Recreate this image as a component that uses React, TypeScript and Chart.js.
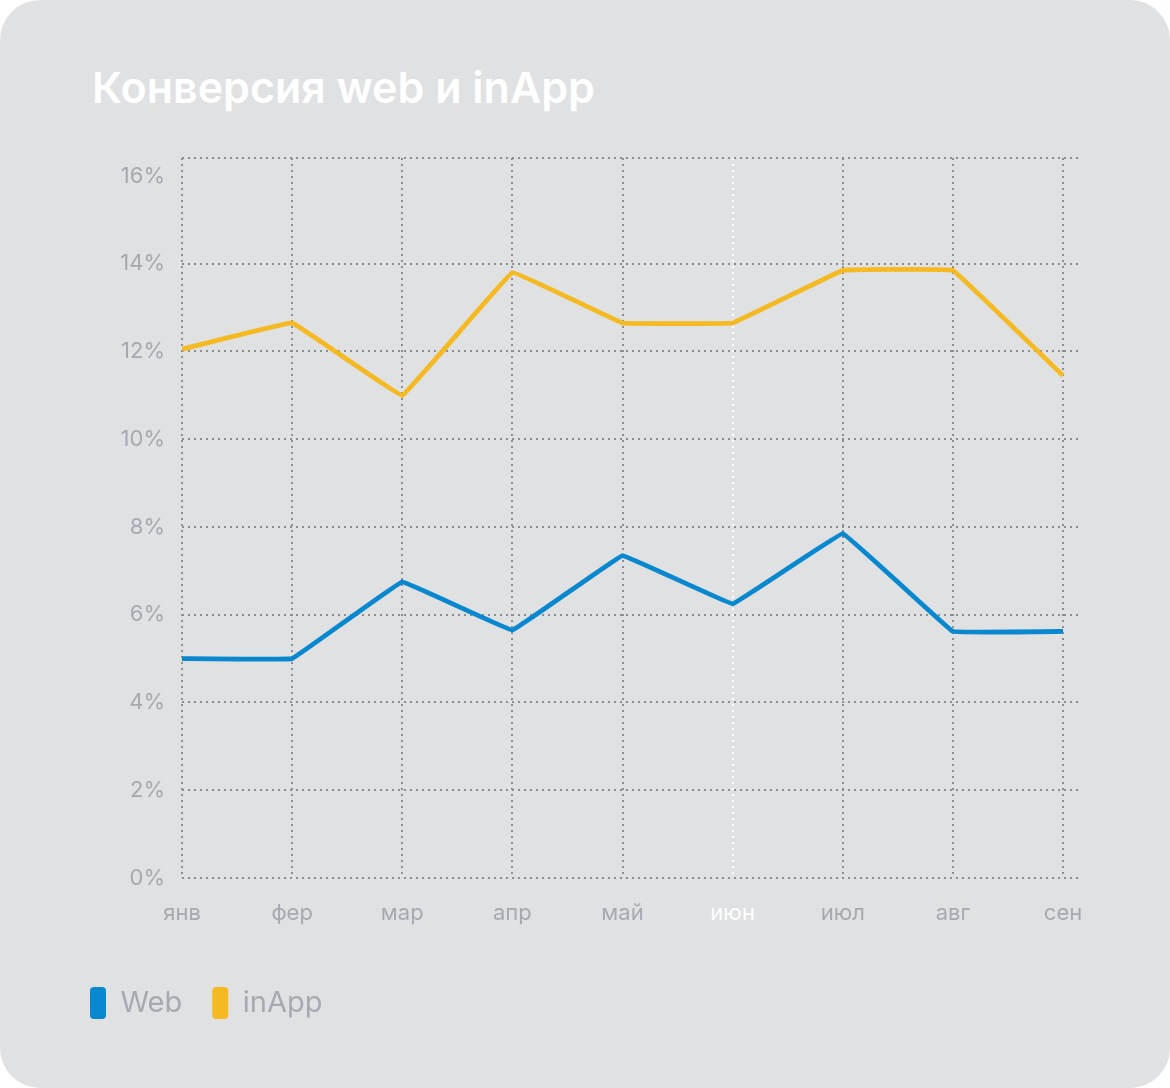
import React, { useEffect, useRef } from "react";
import { Chart, registerables } from "chart.js";

Chart.register(...registerables);

const title = "Конверсия web и inApp";
const months = ["янв", "фер", "мар", "апр", "май", "июн", "июл", "авг", "сен"];
const webValues = [5.0, 5.0, 6.75, 5.65, 7.35, 6.25, 7.85, 5.62, 5.62];
const inAppValues = [12.05, 12.65, 11.0, 13.8, 12.65, 12.65, 13.85, 13.85, 11.45];
const yTicks = [0, 2, 4, 6, 8, 10, 12, 14, 16];
const yTop = 16.41;
const highlightIndex = 5;

const WEB_COLOR = "#0a88cf";
const INAPP_COLOR = "#f5b921";
const GRID_COLOR = "#8c8e92";
const TICK_COLOR = "#a6a9b0";
const FONT = "Inter, 'Noto Sans', sans-serif";

export default function App() {
  const ref = useRef<HTMLCanvasElement | null>(null);

  useEffect(() => {
    if (!ref.current) return;
    const chart = new Chart(ref.current, {
      type: "line",
      data: {
        datasets: [
          {
            label: "Web",
            data: months.map((_, i) => ({ x: i, y: webValues[i] })),
            borderColor: WEB_COLOR,
            backgroundColor: WEB_COLOR,
            borderWidth: 4.8,
            pointRadius: 0,
            tension: 0.035,
            borderJoinStyle: "round",
          },
          {
            label: "inApp",
            data: months.map((_, i) => ({ x: i, y: inAppValues[i] })),
            borderColor: INAPP_COLOR,
            backgroundColor: INAPP_COLOR,
            borderWidth: 4.8,
            pointRadius: 0,
            tension: 0.035,
            borderJoinStyle: "round",
          },
        ],
      },
      options: {
        animation: false,
        responsive: false,
        layout: { padding: { left: 60, right: 92, top: 38, bottom: 59 } },
        scales: {
          x: {
            type: "linear",
            min: 0,
            max: months.length - 1 + 0.136,
            border: { display: false, dash: [2, 4] },
            grid: {
              drawTicks: false,
              lineWidth: 2,
              color: (ctx: any) => (ctx.tick && ctx.tick.value === highlightIndex ? "#ffffff" : GRID_COLOR),
            },
            ticks: {
              stepSize: 1,
              includeBounds: false,
              padding: 22,
              font: { family: FONT, size: 22 },
              color: (ctx: any) => (ctx.tick && ctx.tick.value === highlightIndex ? "#ffffff" : TICK_COLOR),
              callback: (v: any) => months[v] ?? "",
            },
            afterFit: (scale: any) => {
              scale.height = 79;
            },
          },
          y: {
            type: "linear",
            min: 0,
            max: yTop,
            border: { display: false, dash: [2, 4] },
            grid: {
              drawTicks: false,
              lineWidth: 2,
              color: (ctx: any) => (ctx.tick && ctx.tick.value === 16 ? "rgba(0,0,0,0)" : GRID_COLOR),
            },
            ticks: {
              padding: 17,
              font: { family: FONT, size: 22 },
              color: TICK_COLOR,
              callback: (v: any) => (yTicks.includes(v) ? v + "%" : ""),
            },
            afterBuildTicks: (scale: any) => {
              scale.ticks = [...yTicks, yTop].map((v) => ({ value: v }));
            },
            afterFit: (scale: any) => {
              scale.width = 122;
            },
          },
        },
        plugins: {
          tooltip: { enabled: false },
          legend: {
            position: "bottom",
            align: "start",
            labels: {
              boxWidth: 16,
              boxHeight: 32,
              useBorderRadius: true,
              borderRadius: 4,
              padding: 30,
              color: TICK_COLOR,
              font: { family: FONT, size: 29 },
              generateLabels: (c: any) =>
                Chart.defaults.plugins.legend.labels
                  .generateLabels(c)
                  .map((l: any) => ({ ...l, lineWidth: 0, strokeStyle: "rgba(0,0,0,0)" })),
            },
          },
        },
      },
    } as any);
    return () => chart.destroy();
  }, []);

  return (
    <div
      style={{
        position: "fixed",
        left: 0,
        top: 0,
        width: 1170,
        height: 1088,
        background: "#e0e1e3",
        borderRadius: 40,
        overflow: "hidden",
      }}
    >
      <div
        style={{
          position: "absolute",
          left: 92,
          top: 65,
          fontFamily: FONT,
          fontWeight: 600,
          fontSize: 43,
          lineHeight: "44px",
          color: "#ffffff",
          whiteSpace: "nowrap",
        }}
      >
        {title}
      </div>
      <canvas
        ref={ref}
        width={1170}
        height={968}
        style={{ position: "absolute", left: 0, top: 120, width: 1170, height: 968 }}
      />
    </div>
  );
}
